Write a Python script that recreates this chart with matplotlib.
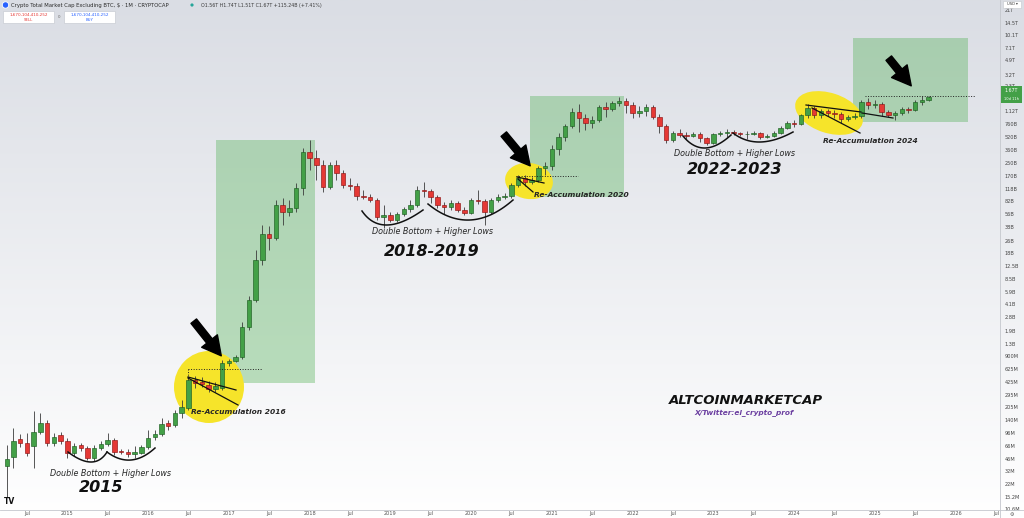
import numpy as np
import pandas as pd
import matplotlib
matplotlib.use('Agg')
import matplotlib.pyplot as plt
import matplotlib.transforms as mtransforms
from matplotlib.patches import Ellipse, Rectangle, FancyArrowPatch, Circle
from matplotlib.lines import Line2D

plt.rcParams['font.family'] = ['DejaVu Sans']

W, H = 1024, 518

# monthly candles, values in billions USD (Apr 2014 .. Sep 2025)
months = pd.date_range('2014-04-01', periods=138, freq='MS')
opens = [0.0370, 0.0481, 0.0811, 0.0722, 0.0662, 0.0994, 0.129, 0.0722, 0.0911, 0.0765,
         0.0540, 0.0681, 0.0624, 0.0467, 0.0624, 0.0701, 0.0788, 0.0572, 0.0556, 0.0524,
         0.0540, 0.0643, 0.0860, 0.0938, 0.129, 0.122, 0.173, 0.200, 0.451, 0.425,
         0.390, 0.347, 0.357, 0.739, 0.783, 0.880, 2.11, 4.61, 14.8, 31.4,
         28.0, 73.1, 59.6, 67.0, 120, 341, 287, 234, 123, 234,
         185, 131, 127, 94.9, 92.2, 84.5, 51.5, 54.6, 47.2, 56.2,
         65.0, 73.1, 113, 110, 92.2, 73.1, 68.9, 77.4, 63.2, 57.9,
         84.5, 82.1, 59.6, 84.5, 92.2, 94.9, 131, 160, 143, 151,
         214, 227, 372, 528, 726, 1091, 917, 793, 865, 1262,
         1191, 1418, 1503, 1338, 1060, 1124, 1262, 944, 726, 484,
         593, 559, 543, 576, 513, 443, 576, 593, 610, 593,
         576, 576, 593, 528, 543, 593, 685, 793, 770, 1000,
         1226, 1000, 1124, 1060, 1030, 890, 944, 971, 1460, 1338,
         1377, 1091, 1000, 1060, 1191, 1157, 1460, 1560]
highs = [0.0681, 0.112, 0.0938, 0.0966, 0.183, 0.173, 0.141, 0.0966, 0.0994, 0.0835,
         0.0722, 0.0722, 0.0662, 0.0681, 0.0765, 0.0966, 0.0835, 0.0607, 0.0607, 0.0662,
         0.0681, 0.105, 0.105, 0.149, 0.141, 0.189, 0.252, 0.507, 0.507, 0.492,
         0.438, 0.425, 0.807, 0.830, 0.933, 2.43, 5.18, 19.8, 40.8, 39.7,
         84.5, 89.5, 84.5, 139, 383, 484, 362, 270, 255, 270,
         202, 160, 139, 113, 101, 89.5, 73.1, 59.6, 59.6, 68.9,
         84.5, 127, 143, 116, 97.7, 79.7, 84.5, 82.1, 68.9, 89.5,
         113, 87.0, 89.5, 101, 104, 139, 175, 175, 165, 227,
         255, 418, 593, 770, 1226, 1377, 1030, 971, 1338, 1460,
         1503, 1688, 1639, 1460, 1299, 1377, 1338, 1030, 770, 628,
         666, 610, 610, 610, 528, 593, 628, 666, 647, 610,
         628, 628, 610, 576, 628, 726, 840, 865, 1030, 1377,
         1299, 1191, 1191, 1157, 1091, 1000, 1060, 1547, 1639, 1547,
         1460, 1157, 1124, 1262, 1262, 1547, 1738, 1740]
lows = [0.0150, 0.0349, 0.0643, 0.0495, 0.0349, 0.0938, 0.0662, 0.0662, 0.0701, 0.0467,
        0.0495, 0.0572, 0.0441, 0.0428, 0.0589, 0.0662, 0.0509, 0.0524, 0.0481, 0.0467,
        0.0524, 0.0607, 0.0788, 0.0885, 0.105, 0.115, 0.149, 0.189, 0.357, 0.368,
        0.318, 0.318, 0.337, 0.677, 0.761, 0.830, 1.93, 4.35, 12.8, 19.8,
        26.4, 40.8, 53.1, 59.6, 97.7, 202, 151, 107, 116, 151,
        120, 113, 84.5, 87.0, 79.7, 47.2, 37.4, 44.6, 44.6, 53.1,
        59.6, 68.9, 92.2, 77.4, 67.0, 56.2, 63.2, 59.6, 54.6, 56.2,
        75.2, 40.8, 56.2, 79.7, 87.0, 89.5, 123, 127, 135, 143,
        175, 202, 313, 470, 685, 610, 647, 685, 816, 944,
        1124, 1299, 1060, 917, 944, 971, 890, 593, 443, 456,
        528, 498, 528, 456, 418, 430, 543, 528, 559, 543,
        498, 559, 498, 513, 528, 576, 666, 706, 748, 917,
        917, 917, 971, 917, 793, 840, 890, 917, 1191, 1226,
        971, 944, 865, 1000, 1060, 1124, 1338, 1510]
closes = [0.0453, 0.0765, 0.0722, 0.0540, 0.0994, 0.129, 0.0722, 0.0860, 0.0765, 0.0540,
          0.0662, 0.0624, 0.0467, 0.0624, 0.0701, 0.0788, 0.0556, 0.0556, 0.0524, 0.0556,
          0.0643, 0.0835, 0.0938, 0.125, 0.118, 0.173, 0.206, 0.451, 0.413, 0.401,
          0.347, 0.379, 0.739, 0.783, 0.880, 2.11, 4.61, 14.8, 31.4, 28.0,
          73.1, 59.6, 67.0, 120, 341, 287, 234, 123, 234, 185,
          131, 127, 94.9, 92.2, 84.5, 51.5, 54.6, 47.2, 56.2, 65.0,
          73.1, 113, 110, 92.2, 73.1, 68.9, 77.4, 63.2, 57.9, 84.5,
          82.1, 59.6, 84.5, 92.2, 94.9, 131, 160, 143, 151, 214,
          227, 372, 528, 726, 1091, 917, 793, 865, 1262, 1191,
          1418, 1503, 1338, 1060, 1124, 1262, 944, 726, 484, 593,
          559, 543, 576, 513, 443, 576, 593, 610, 593, 576,
          580, 593, 528, 543, 593, 685, 793, 770, 1000, 1226,
          1000, 1124, 1060, 1030, 890, 944, 971, 1460, 1338, 1377,
          1091, 1000, 1060, 1191, 1157, 1460, 1560, 1670]

ytick_vals = [0.0106, 0.0152, 0.022, 0.032, 0.046, 0.066, 0.096, 0.140, 0.205, 0.295,
              0.425, 0.625, 0.900, 1.3, 1.9, 2.8, 4.1, 5.9, 8.5, 12.5,
              18, 26, 38, 56, 82, 118, 170, 250, 360, 520,
              760, 1120, 2300, 3200, 4900, 7100, 10100, 14500, 20900]
ytick_labels = ['10.6M', '15.2M', '22M', '32M', '46M', '66M', '96M', '140M', '205M', '295M',
                '425M', '625M', '900M', '1.3B', '1.9B', '2.8B', '4.1B', '5.9B', '8.5B', '12.5B',
                '18B', '26B', '38B', '56B', '82B', '118B', '170B', '250B', '360B', '520B',
                '760B', '1.12T', '2.3T', '3.2T', '4.9T', '7.1T', '10.1T', '14.5T', '21T']

fig = plt.figure(figsize=(W / 100, H / 100), dpi=100)
fig.patch.set_facecolor('white')
# pixel coords, origin top-left
pix = mtransforms.Affine2D().scale(1.0 / W, -1.0 / H).translate(0, 1) + fig.transFigure

# background gradient
bg = fig.add_axes([0, 0, 1, 1], zorder=0)
g = np.linspace(0, 1, 256)[:, None, None]
top_c = np.array([218, 221, 228]) / 255.0
bot_c = np.array([255, 255, 255]) / 255.0
bg.imshow(top_c + (bot_c - top_c) * g, aspect='auto', extent=[0, 1, 0, 1])
bg.set_axis_off()

ax = fig.add_axes([0, 8 / H, 1000 / W, 510 / H], zorder=1)
ax.patch.set_alpha(0)
ax.set_yscale('log')
ax.set_xlim(-1.0, 147.6)
ax.set_ylim(0.0103, 28300)
ax.set_autoscale_on(False)
for s in ax.spines.values():
    s.set_visible(False)

# green boxes (month index, value)
for x0, x1, y0, y1 in [(31.1, 45.8, 0.413, 483.5), (77.8, 91.7, 92.2, 1737), (125.8, 142.8, 816, 9380)]:
    ax.add_patch(Rectangle((x0, y0), x1 - x0, y1 - y0, facecolor='#4caf50', alpha=0.36, lw=0, zorder=1))

# yellow highlights
for cx, cy, w, h, ang in [(209, 387, 70, 72, 0), (529, 181, 48, 36, 8), (829, 113, 70, 40, 18)]:
    ax.add_artist(Ellipse((cx, cy), w, h, angle=ang, transform=pix, facecolor='#f6e42a', lw=0, zorder=2))

# candles
x = np.arange(len(months))
o = np.array(opens)
c = np.array(closes)
hi = np.array(highs)
lo = np.array(lows)
up = c >= o
body_lo = np.minimum(o, c)
body_hi = np.maximum(np.maximum(o, c), body_lo * 1.008)
ax.vlines(x, lo, hi, color='#3b3b3b', lw=0.6, zorder=3)
ax.bar(x[up], body_hi[up] - body_lo[up], bottom=body_lo[up], width=0.66,
       color='#43a047', edgecolor='#1e5e22', lw=0.45, zorder=4)
ax.bar(x[~up], body_hi[~up] - body_lo[~up], bottom=body_lo[~up], width=0.66,
       color='#e53935', edgecolor='#8e1414', lw=0.45, zorder=4)

# axes ticks
tick_pos = list(range(3, 148, 6))
tick_lab = []
for k in tick_pos:
    d = months[0] + pd.DateOffset(months=k)
    tick_lab.append('Jul' if d.month == 7 else str(d.year))
ax.set_xticks(tick_pos)
ax.set_xticklabels(tick_lab)
ax.tick_params(axis='x', length=0, labelsize=3.6, labelcolor='#555555', pad=1.0)
ax.yaxis.tick_right()
ax.yaxis.set_minor_locator(matplotlib.ticker.NullLocator())
ax.set_yticks(ytick_vals)
ax.set_yticklabels(ytick_labels)
ax.tick_params(axis='y', length=0, labelsize=3.6, labelcolor='#444444', pad=3.5)


def line(xs, ys, **kw):
    ax.add_artist(Line2D(xs, ys, transform=pix, **kw))


def arc(p0, pm, p2):
    p0, pm, p2 = np.array(p0, float), np.array(pm, float), np.array(p2, float)
    ctrl = 2 * pm - (p0 + p2) / 2
    t = np.linspace(0, 1, 40)[:, None]
    pts = (1 - t) ** 2 * p0 + 2 * (1 - t) * t * ctrl + t ** 2 * p2
    line(pts[:, 0], pts[:, 1], color='#111111', lw=1.1, zorder=6)


# double bottom curves
arc((68, 452), (91, 462), (107, 452))
arc((107, 452), (131, 460), (155, 448))
arc((362, 211), (387, 225), (423, 210))
arc((428, 204), (470, 220), (513, 200))
arc((683, 136), (705, 148), (731, 135))
arc((733, 133), (760, 142), (793, 132))

# wedge lines
for (x0, y0), (x1, y1) in [((188, 377), (236, 390)), ((188, 378), (238, 405)),
                           ((517, 177), (544, 183)), ((518, 179), (533, 192)),
                           ((806, 105), (861, 112)), ((812, 108), (860, 133)),
                           ((862, 113), (893, 118))]:
    line([x0, x1], [y0, y1], color='#111111', lw=0.9, zorder=6)

# dotted breakout levels
line([188, 262], [369, 369], color='#222222', lw=0.7, ls=':', zorder=6)
line([188, 188], [369, 377], color='#222222', lw=0.7, ls=':', zorder=6)
line([516, 578], [176, 176], color='#222222', lw=0.7, ls=':', zorder=6)
line([865, 975], [96, 96], color='#222222', lw=0.7, ls=':', zorder=6)

# arrows
for tail, tip in [((192, 319), (223, 358)), ((502, 132), (532, 168)), ((887, 56), (913, 88))]:
    ax.add_artist(FancyArrowPatch(tail, tip, transform=pix, color='black', zorder=7,
                                  arrowstyle='simple,head_length=0.8,head_width=0.85,tail_width=0.3',
                                  mutation_scale=17))

# annotation texts
def txt(s, px, py, size, weight='normal', color='#262626', style='italic'):
    ax.text(px, py, s, transform=pix, fontsize=size, fontweight=weight, fontstyle=style,
            color=color, ha='center', va='center', zorder=8)


txt('Double Bottom + Higher Lows', 110, 473, 5.8)
txt('2015', 101, 488, 11.5, 'bold', '#111111')
txt('Re-Accumulation 2016', 238, 412, 5.4, 'semibold')
txt('Double Bottom + Higher Lows', 432, 232, 5.8)
txt('2018-2019', 432, 251, 11.5, 'bold', '#111111')
txt('Re-Accumulation 2020', 581, 195, 5.4, 'semibold')
txt('Double Bottom + Higher Lows', 735, 153, 5.8)
txt('2022-2023', 735, 170, 11.5, 'bold', '#111111')
txt('Re-Accumulation 2024', 870, 141, 5.4, 'semibold')
txt('ALTCOINMARKETCAP', 746, 400, 9.5, 'bold', '#111111')
txt('X/Twitter:el_crypto_prof', 744, 413, 5.3, 'bold', '#6b3fa0')

# header
ax.add_artist(Circle((5.5, 5), 3.2, transform=pix, facecolor='#2962ff', edgecolor='white', lw=0.6, zorder=8))
ax.text(11, 5, 'Crypto Total Market Cap Excluding BTC, $ · 1M · CRYPTOCAP', transform=pix,
        fontsize=3.8, color='#2a2a2a', va='center', ha='left', zorder=8)
ax.add_artist(Circle((192, 5), 1.6, transform=pix, facecolor='#26a69a', lw=0, zorder=8))
ax.text(201, 5, 'O1.56T H1.74T L1.51T C1.67T +115.24B (+7.41%)', transform=pix,
        fontsize=3.4, color='#3a3a3a', va='center', ha='left', zorder=8)
for bx, col, lab in [(3, '#e53935', 'SELL'), (64, '#2962ff', 'BUY')]:
    ax.add_artist(Rectangle((bx, 11), 51, 12, transform=pix, facecolor='white',
                            edgecolor='#c9ccd3', lw=0.5, zorder=8))
    ax.text(bx + 25.5, 15, '1,670,104,410,252', transform=pix, fontsize=3.0, color=col,
            ha='center', va='center', zorder=9)
    ax.text(bx + 25.5, 20, lab, transform=pix, fontsize=2.8, color=col,
            ha='center', va='center', zorder=9)
ax.text(59.5, 17, '0', transform=pix, fontsize=2.8, color='#666666', ha='center', va='center', zorder=9)
ax.text(4, 502, 'TV', transform=pix, fontsize=5.5, fontweight='bold', color='#111111',
        ha='left', va='center', zorder=9)

# price scale decorations
fig.add_artist(Line2D([1000, 1000], [0, 518], transform=pix, color='#c4c7cd', lw=0.6, zorder=3))
fig.add_artist(Line2D([0, 1024], [510, 510], transform=pix, color='#c4c7cd', lw=0.6, zorder=3))
fig.add_artist(Rectangle((1001, 86), 21, 17, transform=pix, facecolor='#43a047', lw=0, zorder=4))
fig.text(1011.5, 91, '1.67T', transform=pix, fontsize=3.4, color='white', ha='center', va='center', zorder=5)
fig.text(1011.5, 98.5, '10d 11h', transform=pix, fontsize=2.6, color='white', ha='center', va='center', zorder=5)
fig.add_artist(Rectangle((1003, 0.5), 18, 7, transform=pix, facecolor='white', edgecolor='#c4c7cd', lw=0.4, zorder=4))
fig.text(1012, 4, 'USD ▾', transform=pix, fontsize=2.6, color='#333333', ha='center', va='center', zorder=5)
fig.text(1012, 514, '⚙', transform=pix, fontsize=3.6, color='#555555', ha='center', va='center', zorder=5)

ax.set_xlim(-1.0, 147.6)
ax.set_ylim(0.0103, 28300)
fig.savefig('out.png', dpi=100)
